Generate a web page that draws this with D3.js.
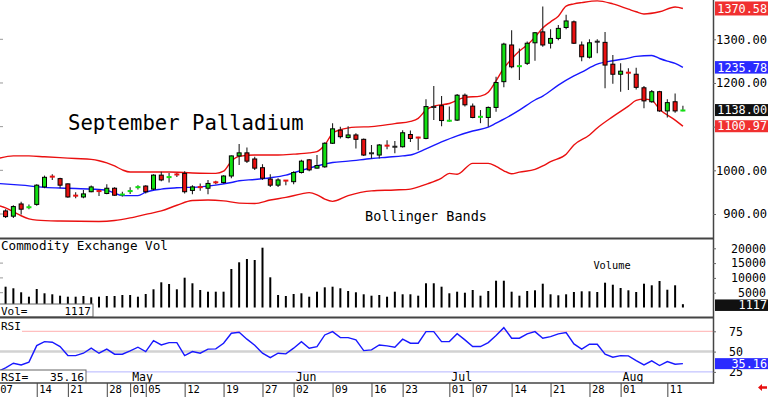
<!DOCTYPE html>
<html>
<head>
<meta charset="utf-8">
<script src="https://cdn.jsdelivr.net/npm/d3@7/dist/d3.min.js"></script>
<style>
  html, body { margin: 0; padding: 0; background: #fff; }
  svg { display: block; }
  text { font-family: "DejaVu Sans Mono", monospace; fill: #000; }
</style>
</head>
<body>
<svg id="chart" width="768" height="398"></svg>
<script>
// trading days (2025), first one is only used for the axis
const days = ['04-07','04-08','04-09','04-10','04-11','04-14','04-15','04-16','04-17','04-21',
  '04-22','04-23','04-24','04-25','04-28','04-29','04-30','05-01','05-02','05-05',
  '05-06','05-07','05-08','05-09','05-12','05-13','05-14','05-15','05-16','05-19',
  '05-20','05-21','05-22','05-23','05-27','05-28','05-29','05-30','06-02','06-03',
  '06-04','06-05','06-06','06-09','06-10','06-11','06-12','06-13','06-16','06-17',
  '06-18','06-20','06-23','06-24','06-25','06-26','06-27','06-30','07-01','07-02',
  '07-03','07-07','07-08','07-09','07-10','07-11','07-14','07-15','07-16','07-17',
  '07-18','07-21','07-22','07-23','07-24','07-25','07-28','07-29','07-30','07-31',
  '08-01','08-04','08-05','08-06','08-07','08-08','08-11','08-12','08-13'];

const open = [null, 907,895,923,915,922,962,986,981,969,942.5,939,951,955,947,959,944,952,959,964,
  957,989,984,991,993,954,964,959,973,972,987,1033,1040,1026,1006,980,966,977,974,995,
  1024,1005,1008,1062,1092,1075,1081,1071,1039,1035,1057,1054,1054,1082,1075.5,1073,1145,1148,1113,1115,
  1172,1147,1122,1121,1144,1203,1287,1238,1245,1292,1317,1291,1302,1327,1340,1287,1259,1294.5,1293,1243,
  1220,1224,1220,1189,1157,1180,1136,1157,1136];
const high = [null, 911,920,928,922,968,988,991,983,970,950,955,965,956,968,961,951,961,966,966,
  991,997,994,994,998,966,970,978,976,989,1034,1060,1052,1031,1014,991,982,977,998,1024,
  1026,1035,1064,1108,1100,1101,1085,1073,1058,1060,1069,1067,1092,1091,1077,1163,1193,1170,1146,1175,
  1176,1153,1138,1146,1214,1292,1321,1279,1295,1317,1375,1323,1333,1356,1343,1295,1300,1300,1317,1264,
  1245,1234,1235,1193,1184,1182,1163,1176,1148];
const low = [null, 891,891,899,911,919,959,978,959,937,936,936,950,941,945,942,940,946,956,947,
  955,975,972,985,947,945,953,945,968,970,982,1012,1017,1001,978,962,962,966,968,993,
  998,1004,1006,1060,1073,1073,1050,1033,1027,1027,1048,1039,1052,1065,1046,1071,1115,1101,1111,1113,
  1146,1119,1108,1100,1134,1190,1234,1207,1241,1251,1283,1279,1298,1323,1289,1250,1256,1268,1188,1198,
  1180,1184,1185,1142,1155,1134,1121,1132,1135];
const close = [null, 894,917,911,916,966,984,985,966,939,941.5,946,962,950,959,943,945,953,964,951,
  989,978,985,990,951,962,959,970,972,987,1033,1040,1021,1005,982,966,978,976,995,1021,
  1001,1011,1062,1095,1077,1081,1071,1035,1039,1058,1056,1054,1086,1073,1074.5,1146,1145,1114,1114,1172,
  1150,1121,1123,1144,1201,1289,1237,1239,1291,1315,1287,1302,1325,1342,1291,1260,1292,1294.5,1241,1220,
  1227,1223,1190,1159,1180,1136,1155,1136,1138];

const volume = [null, 7030,6490,5140,3650,6250,4800,4460,3990,3650,3650,3890,3450,3650,3890,3890,4220,4220,3650,4560,
  6150,8510,7940,6150,10070,8180,5910,5340,5340,5340,13010,15270,16390,16050,20200,10200,4220,3890,4560,4800,
  3650,5340,6820,7030,6490,5570,5140,4460,3990,4220,3650,5340,4460,4460,3990,8180,8180,7030,4800,5340,
  5000,5910,3990,5570,9050,9050,5340,3990,5570,5810,8040,4460,4120,4460,5240,5470,5470,5240,8380,7700,
  6590,5810,5240,8040,7500,8950,6010,7500,1117];

const rsi = [25.4,30,35.7,33.6,37,57.4,62.3,61.6,56.2,45.1,45.1,48,54.2,48,53,46.8,46.8,50.9,55.4,50,
  63.5,58.2,61.1,61.1,45.1,50,48,53,53.3,60.3,72.6,73.9,65.3,57.9,48,42.6,48,47.2,54.2,62.3,
  54.2,56.2,70.5,74.6,67.2,67.2,64.4,51.2,52.1,58.2,57,55.4,65.3,60.3,60.3,74.6,74.6,62.3,62.3,72.1,
  64.4,56.2,56.2,61.1,69.7,79.5,66.5,66.5,71.8,74.6,66.5,68.5,71.8,73.4,59.5,53,59.1,59.1,46.8,43.1,
  45.1,44.7,38.9,33.6,38.6,32.8,37.7,34.5,35.16];

// Bollinger bands: [day index, price]
const upperBand = [[0,1027],[2,1033],[4,1033],[6,1031],[8,1029],[10,1027],[12,1025],[13,1022],[14,1017],[15,1010],
  [16,1001],[17,996],[19,996],[22,996],[25,994],[28,993],[29,998],[30,1021],[31,1032],[33,1035],[36,1035],
  [38,1037],[40,1040],[41,1043],[42,1058],[43,1085],[44,1093],[46,1099],[48,1100],[51,1107],[53,1112],[54,1119],
  [55,1138],[56,1147],[58,1153],[60,1167],[62,1170],[63,1179],[64,1205],[65,1234],[66,1255],[67,1273],[68,1287],
  [69,1305],[70,1326],[71,1340],[72,1353],[73,1376],[74,1381],[75,1384],[77,1388],[79,1381],[81,1369],[82,1363],
  [83,1358],[85,1363],[87,1374],[88,1370.58]];
const midBand = [[0,970],[3,966],[6,961],[9,959],[12,957],[14,954],[15,948],[16,942],[18,942],[19,950],[21,957],
  [23,960],[26,962],[28,966],[30,972],[31,976],[33,979],[35,983],[37,989],[39,1000],[41,1010],[43,1018],[45,1021],
  [48,1027],[50,1030],[52,1033],[53,1035],[55,1049],[57,1065],[59,1079],[61,1090],[63,1099],[64,1108],[65,1117],
  [67,1138],[69,1161],[70,1170],[72,1195],[74,1216],[75,1225],[77,1243],[79,1251],[81,1257],[82,1261],[84,1263],
  [85,1256],[86,1250],[87,1245],[88,1235.78]];
const lowerBand = [[0,920],[1,914],[2,905],[3,896],[4,889],[5,886],[8,884],[13,883],[15,885],[17,891],[19,899],
  [21,907],[23,920],[25,931],[27,932],[29,930],[31,925],[33,924],[35,932],[37,938],[39,946],[40,949],[41,944],
  [42,934],[43,929],[45,942],[48,953],[51,955],[53,957],[55,968],[57,982],[58,993],[59,991],[61,1016],[63,1016],
  [64,1009],[65,999],[66,992],[67,996],[69,1002],[70,1010],[71,1020],[73,1037],[74,1058],[76,1081],[77,1097],
  [79,1123],[81,1147],[82,1160],[83,1163],[84,1160],[85,1140],[87,1115],[88,1100.97]];

const dayTicks = ['04-07','04-14','04-21','04-28','05-01','05-05','05-12','05-19','05-27','06-02',
  '06-09','06-16','06-23','07-01','07-07','07-14','07-21','07-28','08-01','08-11'];
const monthTicks = [['05-01','May'],['06-02','Jun'],['07-01','Jul'],['08-01','Aug']];
const priceTicks = [900, 1000, 1100, 1200, 1300];
const volTicks = [5000, 10000, 15000, 20000];
const rsiTicks = [25, 50, 75];

const RED = '#ea1010', GREEN = '#12e012', BLUE = '#1818ff', DARK = '#222';
const plotRight = 713;

const svg = d3.select('#chart');
svg.append('rect').attr('width', 768).attr('height', 398).attr('fill', '#fff');

const x = d3.scalePoint().domain(days).range([-2.2, 682.9]);
const yPrice = d3.scaleLinear().domain([900, 1300]).range([214, 39.3]);
const yVol = d3.scaleLinear().domain([0, 20000]).range([307.5, 248.3]);
const yRsi = d3.scaleLinear().domain([25, 75]).range([371.9, 331.3]);

const defs = svg.append('defs');
function clip(id, y0, y1) {
  defs.append('clipPath').attr('id', id)
    .append('rect').attr('x', 0).attr('y', y0).attr('width', plotRight).attr('height', y1 - y0);
  return `url(#${id})`;
}

// ---------- price panel ----------
const price = svg.append('g').attr('clip-path', clip('clipPrice', 0, 238));

price.selectAll('.lt').data(priceTicks).enter().append('line')
  .attr('x1', 0).attr('x2', 3)
  .attr('y1', d => yPrice(d)).attr('y2', d => yPrice(d))
  .attr('stroke', '#999');

price.append('text').attr('x', 68).attr('y', 129.5)
  .style('font-size', '20.6px').text('September Palladium');
price.append('text').attr('x', 365).attr('y', 220.5)
  .style('font-size', '13.5px').text('Bollinger Bands');

const bandLine = d3.line()
  .x(d => x(days[d[0]]))
  .y(d => yPrice(d[1]))
  .curve(d3.curveMonotoneX);

[[upperBand, RED], [lowerBand, RED], [midBand, BLUE]].forEach(([band, col]) => {
  price.append('path').datum(band)
    .attr('d', bandLine).attr('fill', 'none')
    .attr('stroke', col).attr('stroke-width', 1.4);
});

const candles = d3.range(1, days.length).map(i => ({
  d: days[i], o: open[i], h: high[i], l: low[i], c: close[i]
}));

const $c = price.selectAll('.candle').data(candles).enter()
  .append('g').attr('class', 'candle')
  .attr('transform', d => `translate(${x(d.d)},0)`);

$c.append('line')
  .attr('y1', d => yPrice(d.h)).attr('y2', d => yPrice(d.l))
  .attr('stroke', DARK).attr('stroke-width', 1.1);

$c.each(function(d) {
  const g = d3.select(this);
  const top = yPrice(Math.max(d.o, d.c));
  const bot = yPrice(Math.min(d.o, d.c));
  const col = d.c > d.o ? GREEN : RED;
  if (d.o === d.c) {
    g.append('rect').attr('x', -2.5).attr('y', top - 1).attr('width', 5).attr('height', 2).attr('fill', DARK);
  } else if (bot - top < 2.5) {
    g.append('rect').attr('x', -2.5).attr('y', (top + bot) / 2 - 1).attr('width', 5).attr('height', 2).attr('fill', col);
  } else {
    g.append('rect').attr('x', -2).attr('y', top).attr('width', 4).attr('height', bot - top)
      .attr('fill', col).attr('stroke', '#000').attr('stroke-width', 1);
  }
});

// ---------- volume panel ----------
const vol = svg.append('g').attr('clip-path', clip('clipVol', 239, 317));

vol.selectAll('.lt').data(volTicks.slice(0, 3)).enter().append('line')
  .attr('x1', 0).attr('x2', 3)
  .attr('y1', d => yVol(d)).attr('y2', d => yVol(d))
  .attr('stroke', '#999');

vol.selectAll('.vbar').data(d3.range(1, days.length)).enter().append('line')
  .attr('x1', i => x(days[i])).attr('x2', i => x(days[i]))
  .attr('y1', yVol(0)).attr('y2', i => yVol(volume[i]))
  .attr('stroke', '#000').attr('stroke-width', 2);

vol.append('text').attr('x', 1).attr('y', 250).style('font-size', '12.6px').text('Commodity Exchange Vol');
vol.append('text').attr('x', 612).attr('y', 269).attr('text-anchor', 'middle')
  .style('font-size', '10.3px').text('Volume');

const lastVol = volume[volume.length - 1];
vol.append('rect').attr('x', -1).attr('y', 304).attr('width', 94).attr('height', 13)
  .attr('fill', '#fff').attr('stroke', '#666');
vol.append('text').attr('x', 1).attr('y', 314.5).style('font-size', '11px').text('Vol=');
vol.append('text').attr('x', 91).attr('y', 314.5).attr('text-anchor', 'end')
  .style('font-size', '11px').text(lastVol);

// ---------- RSI panel ----------
const rs = svg.append('g').attr('clip-path', clip('clipRsi', 318, 383));

rs.append('line').attr('x1', 0).attr('x2', plotRight)
  .attr('y1', yRsi(50)).attr('y2', yRsi(50)).attr('stroke', '#d2d2d2').attr('stroke-width', 2.5);
rs.append('line').attr('x1', 0).attr('x2', plotRight)
  .attr('y1', yRsi(75)).attr('y2', yRsi(75)).attr('stroke', '#ffb0b0').attr('stroke-width', 1);
rs.append('line').attr('x1', 0).attr('x2', plotRight)
  .attr('y1', yRsi(25)).attr('y2', yRsi(25)).attr('stroke', '#b4b4ff').attr('stroke-width', 1);

rs.append('path').datum(rsi)
  .attr('d', d3.line().x((d, i) => x(days[i])).y(d => yRsi(d)))
  .attr('fill', 'none').attr('stroke', BLUE).attr('stroke-width', 1.4);

rs.append('rect').attr('x', 0).attr('y', 320).attr('width', 22).attr('height', 13).attr('fill', '#fff');
rs.append('text').attr('x', 1).attr('y', 330).style('font-size', '11px').text('RSI');

rs.selectAll('.month').data(monthTicks).enter().append('text')
  .attr('x', d => x(d[0]) + 2).attr('y', 380.5)
  .style('font-size', '11.5px').text(d => d[1]);

const lastRsi = rsi[rsi.length - 1];
rs.append('rect').attr('x', -1).attr('y', 370).attr('width', 87).attr('height', 14)
  .attr('fill', '#fff').attr('stroke', '#666');
rs.append('text').attr('x', 1).attr('y', 380.5).style('font-size', '11.3px').text('RSI=');
rs.append('text').attr('x', 84).attr('y', 380.5).attr('text-anchor', 'end')
  .style('font-size', '11.3px').text(d3.format('.2f')(lastRsi));

// ---------- frame ----------
const frame = svg.append('g').attr('stroke', '#444');
frame.append('line').attr('x1', 0).attr('x2', plotRight).attr('y1', 238.5).attr('y2', 238.5).attr('stroke-width', 2);
frame.append('line').attr('x1', 0).attr('x2', plotRight).attr('y1', 317.5).attr('y2', 317.5).attr('stroke-width', 2);
frame.append('line').attr('x1', 0).attr('x2', plotRight + 1).attr('y1', 383).attr('y2', 383).attr('stroke-width', 1.5);
frame.append('line').attr('x1', plotRight + 0.5).attr('x2', plotRight + 0.5).attr('y1', 0).attr('y2', 383.5).attr('stroke-width', 1.5);

// ---------- right axes ----------
function rightAxis(scale, ticks, fmt, size, anchorX, anchor) {
  const g = svg.append('g').attr('transform', `translate(${plotRight},0)`)
    .call(d3.axisRight(scale).tickValues(ticks).tickSize(3).tickFormat(fmt));
  g.select('.domain').remove();
  g.selectAll('.tick line').attr('stroke', '#666');
  g.selectAll('.tick text')
    .attr('x', anchorX).attr('text-anchor', anchor)
    .style('font-family', '"DejaVu Sans Mono", monospace')
    .style('font-size', size).attr('fill', '#000');
  return g;
}
rightAxis(yPrice, priceTicks, d3.format('.2f'), '12.1px', 54, 'end');
rightAxis(yVol, volTicks, d => d, '11.6px', 53, 'end');
rightAxis(yRsi, rsiTicks, d => d, '11.6px', 16, 'start');

function valueTag(y, label, bg, h) {
  const g = svg.append('g');
  g.append('rect').attr('x', 715).attr('y', y - h / 2).attr('width', 53).attr('height', h).attr('fill', bg);
  g.append('text').attr('x', 767).attr('y', y + 4.2).attr('text-anchor', 'end')
    .style('font-size', '11.8px').style('fill', '#fff').text(label);
}
const fmt2 = d3.format('.2f');
valueTag(yPrice(upperBand[upperBand.length - 1][1]), fmt2(upperBand[upperBand.length - 1][1]), '#f03030', 14);
valueTag(yPrice(midBand[midBand.length - 1][1]), fmt2(midBand[midBand.length - 1][1]), '#2a2aff', 12.5);
valueTag(yPrice(close[close.length - 1]), fmt2(close[close.length - 1]), '#111', 12);
valueTag(yPrice(lowerBand[lowerBand.length - 1][1]), fmt2(lowerBand[lowerBand.length - 1][1]), '#f03030', 12);
valueTag(yVol(lastVol) + 1, String(lastVol), '#111', 11.5);
valueTag(yRsi(lastRsi), fmt2(lastRsi), '#2a2aff', 11);

// ---------- date axis ----------
const xAxis = svg.append('g').attr('transform', 'translate(0,383)')
  .call(d3.axisBottom(x).tickValues(dayTicks).tickSize(14).tickFormat(d => d.slice(3)));
xAxis.select('.domain').remove();
xAxis.selectAll('.tick line').attr('stroke', '#444');
xAxis.selectAll('.tick text')
  .attr('x', 2).attr('y', 3).attr('dy', '0.71em').attr('text-anchor', 'start')
  .style('font-family', '"DejaVu Sans Mono", monospace')
  .style('font-size', '10.5px').attr('fill', '#000');

// little red arrow bottom right
svg.append('path')
  .attr('d', 'M758,387.5 L762,384 L762,386.3 L767,386.3 L767,388.7 L762,388.7 L762,391 Z')
  .attr('fill', '#e81010');
</script>
</body>
</html>
